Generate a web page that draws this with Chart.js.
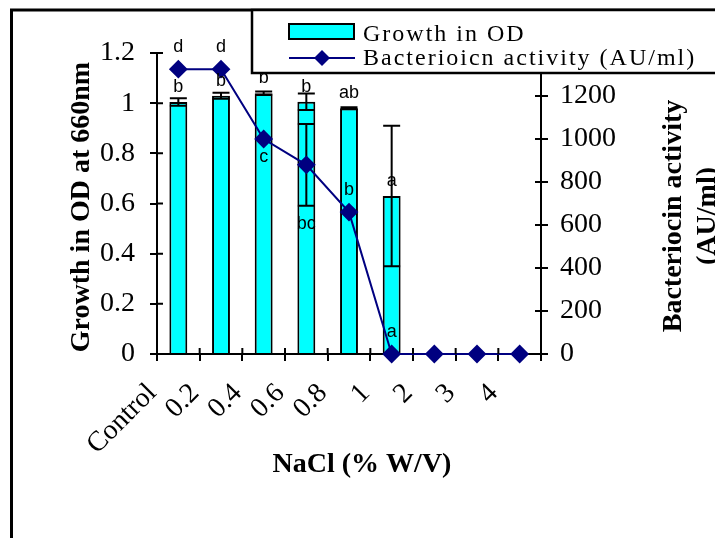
<!DOCTYPE html>
<html>
<head>
<meta charset="utf-8">
<script src="https://cdn.jsdelivr.net/npm/chart.js@4.4.1/dist/chart.umd.min.js"></script>
<style>
  html, body { margin: 0; padding: 0; background: #fff; }
  canvas { display: block; }
</style>
</head>
<body>
<canvas id="saltChart" width="715" height="538"></canvas>
<script>
// NaCl concentration vs growth (OD) and bacteriocin activity
const categories = ["Control", "0.2", "0.4", "0.6", "0.8", "1", "2", "3", "4"];
const growthOD = [1.005, 1.03, 1.04, 1.006, 0.98, 0.63, 0, 0, 0];
const growthErr = [0.015, 0.012, 0.007, 0.033, 0.004, 0.28, 0, 0, 0];
const growthLetters = ["b", "b", "b", "b", "ab", "a", "", "", ""];
const activity = [1325, 1325, 1000, 880, 660, 0, 0, 0, 0];
const activityErr = [0, 0, 0, 190, 0, 0, 0, 0, 0];
const activityLetters = ["d", "d", "c", "bc", "b", "a", "", "", ""];
const activityLetterBelow = [false, false, true, true, false, false, false, false, false];
const odTicks = [0, 0.2, 0.4, 0.6, 0.8, 1, 1.2];
const activityTicks = [0, 200, 400, 600, 800, 1000, 1200, 1400];

const seriesNames = ["Growth in OD", "Bacterioicn activity (AU/ml)"];
const xTitle = "NaCl (% W/V)";
const yTitle = "Growth in OD at 660nm";
const y1Title = ["Bacteriocin activity", "(AU/ml)"];

const SERIF = "'Liberation Serif', 'Times New Roman', serif";
const SANS = "'Liberation Sans', Arial, sans-serif";
const CYAN = "#00FFFF";
const NAVY = "#000080";

Chart.defaults.font.family = SERIF;
Chart.defaults.color = "#000";

// error bars, drawn right after the bars so the line sits on top
const errorBars = {
  id: "errorBars",
  afterDatasetDraw(chart, args) {
    if (args.index !== 0) return;
    const ctx = chart.ctx;
    ctx.save();
    ctx.strokeStyle = "#000";
    ctx.lineWidth = 2;
    [[0, growthOD, growthErr, "y"], [1, activity, activityErr, "y1"]].forEach(([di, vals, errs, axis]) => {
      const meta = chart.getDatasetMeta(di);
      const yScale = chart.scales[axis];
      meta.data.forEach((el, i) => {
        if (!errs[i]) return;
        const x = el.x;
        const top = yScale.getPixelForValue(vals[i] + errs[i]);
        const bot = yScale.getPixelForValue(vals[i] - errs[i]);
        const half = 8.5;
        ctx.beginPath();
        ctx.moveTo(x, top); ctx.lineTo(x, bot);
        ctx.moveTo(x - half, top); ctx.lineTo(x + half, top);
        ctx.moveTo(x - half, bot); ctx.lineTo(x + half, bot);
        ctx.stroke();
      });
    });
    ctx.restore();
  }
};

// significance letters
const letters = {
  id: "letters",
  afterDatasetsDraw(chart) {
    const ctx = chart.ctx;
    ctx.save();
    ctx.font = "18px " + SANS;
    ctx.fillStyle = "#000";
    ctx.textAlign = "center";
    ctx.textBaseline = "middle";
    chart.getDatasetMeta(0).data.forEach((el, i) => {
      if (growthLetters[i]) ctx.fillText(growthLetters[i], el.x, el.y - 15);
    });
    const y1 = chart.scales.y1;
    chart.getDatasetMeta(1).data.forEach((el, i) => {
      if (!activityLetters[i]) return;
      const top = y1.getPixelForValue(activity[i] + activityErr[i]);
      const bot = y1.getPixelForValue(activity[i] - activityErr[i]);
      const y = activityLetterBelow[i] ? Math.max(el.y, bot) + 18 : Math.min(el.y, top) - 22;
      ctx.fillText(activityLetters[i], el.x, y);
    });
    ctx.restore();
  }
};

// tick marks that cross the axis lines (inner half)
const innerTicks = {
  id: "innerTicks",
  afterDraw(chart) {
    const { ctx, scales } = chart;
    ctx.save();
    ctx.strokeStyle = "#000";
    ctx.lineWidth = 2;
    ctx.beginPath();
    for (let i = 0; i <= categories.length; i++) {
      const x = scales.x.getPixelForValue(i - 0.5);
      ctx.moveTo(x, scales.x.top); ctx.lineTo(x, scales.x.top - 6);
    }
    scales.y.ticks.forEach(t => {
      const y = scales.y.getPixelForValue(t.value);
      ctx.moveTo(scales.y.right, y); ctx.lineTo(scales.y.right + 6, y);
    });
    scales.y1.ticks.forEach(t => {
      const y = scales.y1.getPixelForValue(t.value);
      ctx.moveTo(scales.y1.left, y); ctx.lineTo(scales.y1.left - 6, y);
    });
    ctx.stroke();
    ctx.restore();
  }
};

// axis titles
const titles = {
  id: "titles",
  afterDraw(chart) {
    const ctx = chart.ctx;
    ctx.save();
    ctx.font = "bold 28px " + SERIF;
    ctx.fillStyle = "#000";
    ctx.textAlign = "center";
    ctx.textBaseline = "middle";
    ctx.fillText(xTitle, 362, 465);

    ctx.save();
    ctx.translate(82, 207);
    ctx.rotate(-Math.PI / 2);
    ctx.fillText(yTitle, 0, 0);
    ctx.restore();

    ctx.translate(674, 216);
    ctx.rotate(-Math.PI / 2);
    y1Title.forEach((line, i) => ctx.fillText(line, 0, i * 34));
    ctx.restore();
  }
};

// legend box + outer frame
const legendBox = {
  id: "legendBox",
  afterDraw(chart) {
    const ctx = chart.ctx;
    ctx.save();
    ctx.lineWidth = 3;
    ctx.strokeStyle = "#000";
    ctx.strokeRect(11.5, 10, 1000, 1000);

    ctx.fillStyle = "#fff";
    ctx.fillRect(252, 10, 500, 63);
    ctx.lineWidth = 2.5;
    ctx.strokeRect(252, 10, 500, 63);

    ctx.fillStyle = CYAN;
    ctx.fillRect(289, 24, 65, 15);
    ctx.lineWidth = 2;
    ctx.strokeRect(289, 24, 65, 15);

    ctx.strokeStyle = NAVY;
    ctx.beginPath();
    ctx.moveTo(289, 58); ctx.lineTo(355, 58);
    ctx.stroke();
    ctx.fillStyle = NAVY;
    ctx.beginPath();
    ctx.moveTo(322, 50); ctx.lineTo(330, 58); ctx.lineTo(322, 66); ctx.lineTo(314, 58);
    ctx.closePath();
    ctx.fill();

    ctx.fillStyle = "#000";
    ctx.font = "24px " + SERIF;
    ctx.letterSpacing = "2px";
    ctx.textAlign = "left";
    ctx.textBaseline = "alphabetic";
    ctx.fillText(seriesNames[0], 363, 41);
    ctx.fillText(seriesNames[1], 363, 65);
    ctx.restore();
  }
};

const axisLine = { color: "#000", width: 2 };
const axisGrid = { drawOnChartArea: false, color: "#000", lineWidth: 2, tickLength: 7 };

new Chart(document.getElementById("saltChart"), {
  data: {
    labels: categories,
    datasets: [
      {
        type: "bar",
        label: seriesNames[0],
        data: growthOD,
        yAxisID: "y",
        backgroundColor: CYAN,
        borderColor: "#000",
        borderWidth: 2,
        barPercentage: 0.42,
        categoryPercentage: 1,
        order: 1
      },
      {
        type: "line",
        label: seriesNames[1],
        data: activity,
        yAxisID: "y1",
        borderColor: NAVY,
        borderWidth: 2,
        pointStyle: "rectRot",
        pointRadius: 8,
        pointBackgroundColor: NAVY,
        pointBorderColor: NAVY,
        tension: 0,
        clip: false,
        order: 0
      }
    ]
  },
  options: {
    responsive: false,
    animation: false,
    devicePixelRatio: 1,
    layout: { padding: { top: 53, left: 0, right: 0, bottom: 0 } },
    plugins: { legend: { display: false }, tooltip: { enabled: false } },
    scales: {
      x: {
        grid: { ...axisGrid, offset: true },
        border: axisLine,
        ticks: { font: { size: 28 }, color: "#000", minRotation: 45, maxRotation: 45, autoSkip: false, labelOffset: -26, padding: 16 },
        afterFit: s => { s.height = 184; }
      },
      y: {
        position: "left",
        min: odTicks[0],
        max: odTicks[odTicks.length - 1],
        afterBuildTicks: s => { s.ticks = odTicks.map(v => ({ value: v })); },
        grid: axisGrid,
        border: axisLine,
        ticks: { font: { size: 28 }, color: "#000", padding: 15, callback: v => String(v) },
        afterFit: s => { s.width = 157; }
      },
      y1: {
        position: "right",
        min: activityTicks[0],
        max: activityTicks[activityTicks.length - 1],
        afterBuildTicks: s => { s.ticks = activityTicks.map(v => ({ value: v })); },
        grid: axisGrid,
        border: axisLine,
        ticks: { font: { size: 28 }, color: "#000", padding: 12, callback: v => String(v) },
        afterFit: s => { s.width = 174; }
      }
    }
  },
  plugins: [errorBars, letters, innerTicks, titles, legendBox]
});
</script>
</body>
</html>
